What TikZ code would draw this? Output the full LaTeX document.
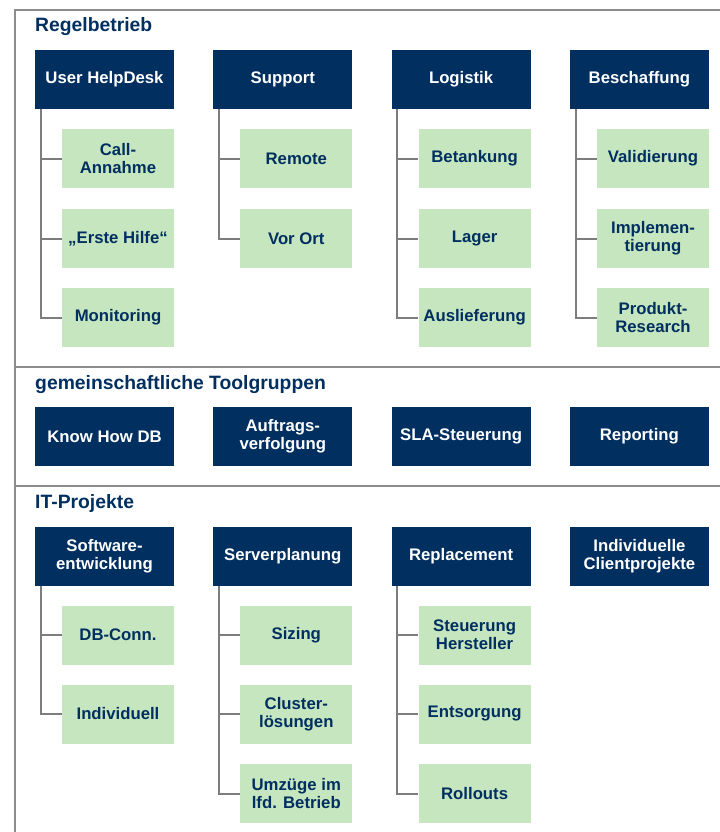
\documentclass[tikz,border=0pt]{standalone}
\usepackage{fontspec}
\setmainfont{Liberation Sans}
\usepackage{tikz}
\usetikzlibrary{positioning}

\definecolor{navy}{RGB}{1,47,96}
\definecolor{leafgreen}{RGB}{198,230,191}
\definecolor{rulegray}{RGB}{140,140,140}
\definecolor{wiregray}{RGB}{125,125,125}

\begin{document}
\begin{tikzpicture}[x=1bp,y=-1bp,
        head/.style={rectangle,fill=navy,text=white,align=center,inner sep=0pt,
          font=\bfseries\fontsize{16.8}{18}\selectfont,minimum width=139bp,minimum height=59bp},
        leaf/.style={rectangle,fill=leafgreen,text=navy,align=center,inner sep=0pt,
          font=\bfseries\fontsize{16.8}{18}\selectfont,minimum width=112bp,minimum height=59bp},
        title/.style={anchor=base west,text=navy,inner sep=0pt,
          font=\bfseries\fontsize{19.4}{22}\selectfont},
        sepline/.style={draw=rulegray,line width=1.2bp},
        conn/.style={draw=wiregray,line width=2bp},
        elbow/.style={to path={|- (\tikztotarget)}}]

        \useasboundingbox (0,0) rectangle (720,832);

        \draw[sepline] (720,10) -- (15,10) -- (15,832);
        \draw[sepline] (15,367) -- (720,367);
        \draw[sepline] (15,486) -- (720,486);

        \node[title] (R) at (35,31) {Regelbetrieb};
        \node[title] (G) at (35,389) {gemeinschaftliche Toolgruppen};
        \node[title] (I) at (35,508) {IT-Projekte};

        \node[head] (H1) at (104.5,79.5) {User HelpDesk};
        \node[head] (H2) at (282.8,79.5) {Support};
        \node[head] (H3) at (461.1,79.5) {Logistik};
        \node[head] (H4) at (639.4,79.5) {Beschaffung};

        \node[leaf] (n11) at (118,158.5) {Call-\\Annahme};
        \node[leaf] (n12) at (118,238.5) {„Erste Hilfe“};
        \node[leaf] (n13) at (118,317.5) {Monitoring};
        \node[leaf] (n21) at (296.3,158.5) {Remote};
        \node[leaf] (n22) at (296.3,238.5) {Vor Ort};
        \node[leaf] (n31) at (474.6,158.5) {Betankung};
        \node[leaf] (n32) at (474.6,238.5) {Lager};
        \node[leaf] (n33) at (474.6,317.5) {Auslieferung};
        \node[leaf] (n41) at (653,158.5) {Validierung};
        \node[leaf] (n42) at (653,238.5) {Implemen-\\tierung};
        \node[leaf] (n43) at (653,317.5) {Produkt-\\Research};

        \node[head] (T1) at (104.5,436.5) {Know How DB};
        \node[head] (T2) at (282.8,436.5) {Auftrags-\\verfolgung};
        \node[head] (T3) at (461.1,436.5) {SLA-Steuerung};
        \node[head] (T4) at (639.4,436.5) {Reporting};

        \node[head] (P1) at (104.5,556) {Software-\\entwicklung};
        \node[head] (P2) at (282.8,556) {Serverplanung};
        \node[head] (P3) at (461.1,556) {Replacement};
        \node[head] (P4) at (639.4,556) {Individuelle\\Clientprojekte};

        \node[leaf] (m11) at (118,635) {DB-Conn.};
        \node[leaf] (m12) at (118,714) {Individuell};
        \node[leaf] (m21) at (296.3,635) {Sizing};
        \node[leaf] (m22) at (296.3,714) {Cluster-\\lösungen};
        \node[leaf] (m23) at (296.3,793.5) {Umzüge im\\lfd. Betrieb};
        \node[leaf] (m31) at (474.6,635) {Steuerung\\Hersteller};
        \node[leaf] (m32) at (474.6,714) {Entsorgung};
        \node[leaf] (m33) at (474.6,793.5) {Rollouts};

        \path[conn]
                  ([xshift=6bp]H1.south west) edge [elbow] (n11.west)
                  ([xshift=6bp]H1.south west) edge [elbow] (n12.west)
                  ([xshift=6bp]H1.south west) edge [elbow] (n13.west)

                  ([xshift=6bp]H2.south west) edge [elbow] (n21.west)
                  ([xshift=6bp]H2.south west) edge [elbow] (n22.west)

                  ([xshift=6bp]H3.south west) edge [elbow] (n31.west)
                  ([xshift=6bp]H3.south west) edge [elbow] (n32.west)
                  ([xshift=6bp]H3.south west) edge [elbow] (n33.west)

                  ([xshift=6bp]H4.south west) edge [elbow] (n41.west)
                  ([xshift=6bp]H4.south west) edge [elbow] (n42.west)
                  ([xshift=6bp]H4.south west) edge [elbow] (n43.west)

                  ([xshift=6bp]P1.south west) edge [elbow] (m11.west)
                  ([xshift=6bp]P1.south west) edge [elbow] (m12.west)

                  ([xshift=6bp]P2.south west) edge [elbow] (m21.west)
                  ([xshift=6bp]P2.south west) edge [elbow] (m22.west)
                  ([xshift=6bp]P2.south west) edge [elbow] (m23.west)

                  ([xshift=6bp]P3.south west) edge [elbow] (m31.west)
                  ([xshift=6bp]P3.south west) edge [elbow] (m32.west)
                  ([xshift=6bp]P3.south west) edge [elbow] (m33.west);
\end{tikzpicture}
\end{document}
